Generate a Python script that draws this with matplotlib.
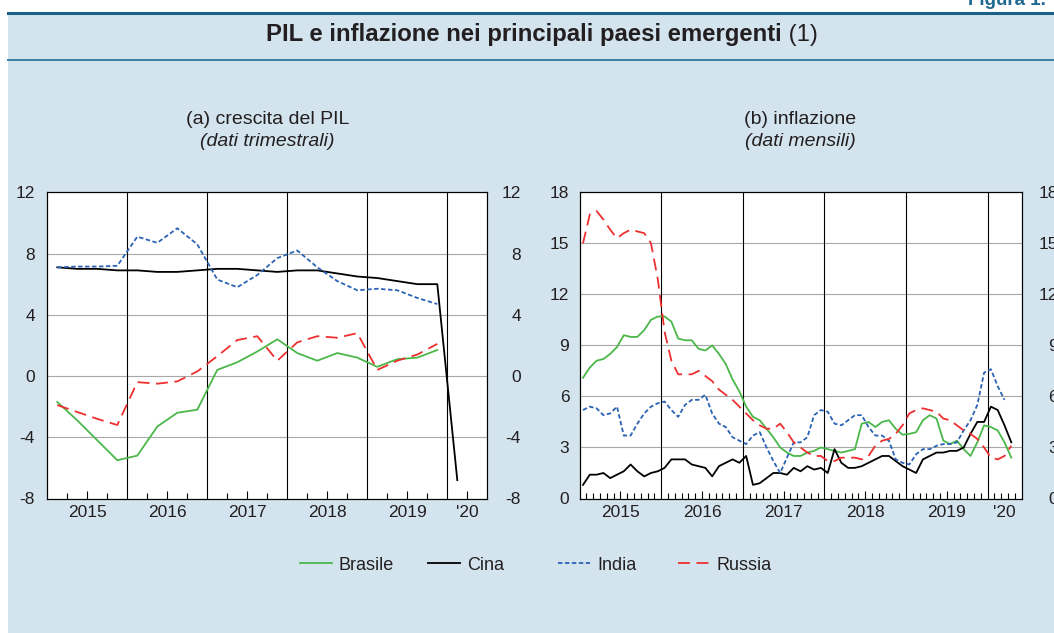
import numpy as np
import matplotlib
matplotlib.use("Agg")
import matplotlib.pyplot as plt
from matplotlib.lines import Line2D
from matplotlib.patches import Rectangle
from matplotlib.text import Annotation

plt.rcParams['font.family'] = ['Liberation Sans', 'DejaVu Sans']
plt.rcParams['lines.scale_dashes'] = False

nan = np.nan

# ---------------- dati ----------------
serie = ['Brasile', 'Cina', 'India', 'Russia']
anni = ['2015', '2016', '2017', '2018', '2019', "'20"]

# (a) crescita del PIL, dati trimestrali 2015T1 - 2020T2
trimestri = np.arange(22)
pil_brasile = [-1.7, -2.9, -4.2, -5.5, -5.2, -3.3, -2.4, -2.2, 0.4, 0.9, 1.6,
               2.4, 1.5, 1.0, 1.5, 1.2, 0.6, 1.1, 1.2, 1.7, nan, nan]
pil_cina = [7.1, 7.0, 7.0, 6.9, 6.9, 6.8, 6.8, 6.9, 7.0, 7.0, 6.9,
            6.8, 6.9, 6.9, 6.7, 6.5, 6.4, 6.2, 6.0, 6.0, -6.8, nan]
pil_india = [7.1, 7.15, 7.15, 7.2, 9.1, 8.7, 9.65, 8.6, 6.3, 5.8, 6.6,
             7.7, 8.2, 7.1, 6.2, 5.6, 5.7, 5.6, 5.1, 4.7, nan, nan]
pil_russia = [-1.9, -2.35, -2.8, -3.2, -0.4, -0.5, -0.35, 0.3, 1.3, 2.35, 2.6,
              1.0, 2.2, 2.6, 2.5, 2.8, 0.4, 1.0, 1.4, 2.1, nan, nan]

# (b) inflazione, dati mensili gen 2015 - apr 2020
mesi = np.arange(64)
infl_brasile = [7.1, 7.7, 8.1, 8.2, 8.5, 8.9, 9.6, 9.5, 9.5, 9.9, 10.5, 10.7,
                10.7, 10.4, 9.4, 9.3, 9.3, 8.8, 8.7, 9.0, 8.5, 7.9, 7.0, 6.3,
                5.4, 4.8, 4.6, 4.1, 3.6, 3.0, 2.7, 2.5, 2.5, 2.7, 2.8, 3.0,
                2.9, 2.8, 2.7, 2.8, 2.9, 4.4, 4.5, 4.2, 4.5, 4.6, 4.1, 3.75,
                3.8, 3.9, 4.6, 4.9, 4.7, 3.4, 3.2, 3.4, 2.9, 2.5, 3.3, 4.3,
                4.2, 4.0, 3.3, 2.4]
infl_cina = [0.8, 1.4, 1.4, 1.5, 1.2, 1.4, 1.6, 2.0, 1.6, 1.3, 1.5, 1.6,
             1.8, 2.3, 2.3, 2.3, 2.0, 1.9, 1.8, 1.3, 1.9, 2.1, 2.3, 2.1,
             2.5, 0.8, 0.9, 1.2, 1.5, 1.5, 1.4, 1.8, 1.6, 1.9, 1.7, 1.8,
             1.5, 2.9, 2.1, 1.8, 1.8, 1.9, 2.1, 2.3, 2.5, 2.5, 2.2, 1.9,
             1.7, 1.5, 2.3, 2.5, 2.7, 2.7, 2.8, 2.8, 3.0, 3.8, 4.5, 4.5,
             5.4, 5.2, 4.3, 3.3]
infl_india = [5.2, 5.4, 5.3, 4.9, 5.0, 5.4, 3.7, 3.7, 4.4, 5.0, 5.4, 5.6,
              5.7, 5.2, 4.8, 5.5, 5.8, 5.8, 6.1, 5.0, 4.4, 4.2, 3.6, 3.4,
              3.2, 3.7, 3.9, 3.0, 2.2, 1.5, 2.4, 3.3, 3.3, 3.6, 4.9, 5.2,
              5.1, 4.4, 4.3, 4.6, 4.9, 4.9, 4.2, 3.7, 3.7, 3.4, 2.3, 2.1,
              2.0, 2.6, 2.9, 2.9, 3.1, 3.2, 3.2, 3.3, 4.0, 4.6, 5.5, 7.4,
              7.6, 6.6, 5.8, nan]
infl_russia = [15.0, 16.7, 16.9, 16.4, 15.8, 15.3, 15.6, 15.8, 15.7, 15.6, 15.0, 12.9,
               9.8, 8.1, 7.3, 7.3, 7.3, 7.5, 7.2, 6.9, 6.4, 6.1, 5.8, 5.4,
               5.0, 4.6, 4.3, 4.1, 4.1, 4.4, 3.9, 3.3, 3.0, 2.7, 2.5, 2.5,
               2.2, 2.2, 2.4, 2.4, 2.4, 2.3, 2.5, 3.1, 3.4, 3.5, 3.8, 4.3,
               5.0, 5.2, 5.3, 5.2, 5.1, 4.7, 4.6, 4.3, 4.0, 3.8, 3.5, 3.0,
               2.4, 2.3, 2.5, 3.1]

colori = {'Brasile': '#4bb749', 'Cina': '#000000', 'India': '#2b63b5', 'Russia': '#ed2f2f'}
trattini = {'India': (3.2, 1.8), 'Russia': (8.6, 4.7)}
testo = '#231f20'


def stile(nome):
    kw = dict(color=colori[nome], lw=1.3)
    if nome in trattini:
        kw['dashes'] = trattini[nome]
    return kw


def pannello(ax, x, dati, ylim, yticks, per_anno, n_periodi, pad_sx, pad_dx):
    ax.set_xlim(-0.5, n_periodi - 0.5)
    ax.set_ylim(*ylim)
    ax.set_yticks(yticks)
    ax.set_yticklabels([str(v) for v in yticks])
    ax.yaxis.grid(True, color='#a8a8a8', lw=0.8)
    ax.set_axisbelow(True)

    confini = np.arange(per_anno, n_periodi, per_anno) - 0.5
    for c in confini:
        ax.axvline(c, color='black', lw=0.8, zorder=1.5)

    for nome, y in zip(serie, dati):
        ax.plot(x, y, zorder=3, **stile(nome))

    # etichette anni al centro di ogni anno visibile
    inizi = np.arange(0, n_periodi, per_anno) - 0.5
    fini = np.minimum(inizi + per_anno, n_periodi - 0.5)
    centri = (inizi + fini) / 2
    ax.set_xticks(centri)
    ax.set_xticklabels(anni[:len(centri)])
    tacche = [b for b in np.arange(n_periodi - 1) + 0.5
              if b not in confini and b not in centri]
    ax.set_xticks(tacche, minor=True)
    ax.tick_params(axis='x', which='major', direction='in', length=6, width=0.8,
                   pad=5, labelsize=12.5, labelcolor=testo)
    ax.tick_params(axis='x', which='minor', direction='in', length=4, width=0.8)
    for t, c in zip(ax.xaxis.get_major_ticks(), centri):
        if (c - 0.5) % 1 != 0:
            t.tick1line.set_visible(False)
    ax.tick_params(axis='y', length=0, pad=pad_sx, labelsize=12.5, labelcolor=testo)

    for s in ax.spines.values():
        s.set_linewidth(0.8)

    ax2 = ax.twinx()
    ax2.set_ylim(*ylim)
    ax2.set_yticks(yticks)
    ax2.set_yticklabels([str(v) for v in yticks])
    ax2.tick_params(axis='y', length=0, pad=pad_dx, labelsize=12.5, labelcolor=testo)
    for lab in ax2.get_yticklabels():
        lab.set_horizontalalignment('right')
    for s in ax2.spines.values():
        s.set_linewidth(0.8)
    return ax2


W, H = 1054, 633
fig = plt.figure(figsize=(W / 100, H / 100), dpi=100, facecolor='white')


def fx(px):
    return px / W


def fy(py):
    return 1 - py / H


# sfondo azzurro e filetti
fig.add_artist(Rectangle((fx(8), 0), 1 - fx(8), fy(12), transform=fig.transFigure,
                         facecolor='#d3e4ee', edgecolor='none', zorder=-2))
fig.add_artist(Line2D([fx(8), 1], [fy(12.5), fy(12.5)], transform=fig.transFigure,
                      color='#1b6089', lw=2.2, zorder=-1))
fig.add_artist(Line2D([fx(8), 1], [fy(59.7), fy(59.7)], transform=fig.transFigure,
                      color='#3a7ea5', lw=1.4, zorder=-1))

fig.text(fx(968), fy(5), 'Figura 1.', fontsize=13.5, fontweight='bold',
         color='#1f6a93', va='baseline', ha='left')

titolo = fig.text(fx(524), fy(41), 'PIL e inflazione nei principali paesi emergenti',
                  fontsize=17.2, fontweight='bold', color=testo, ha='center', va='baseline')
fig.add_artist(Annotation(' (1)', xy=(1, 0), xycoords=titolo, fontsize=17.2,
                          color=testo, ha='left', va='bottom'))

# pannello (a)
ax_a = fig.add_axes([fx(47.3), fy(498.5), fx(487.3) - fx(47.3), fy(192.3) - fy(498.5)])
pannello(ax_a, trimestri, [pil_brasile, pil_cina, pil_india, pil_russia],
         (-8, 12), [-8, -4, 0, 4, 8, 12], 4, 22, 8.9, 24.3)
fig.text(fx(267.3), fy(119), '(a) crescita del PIL', fontsize=14, color=testo,
         ha='center', va='center')
fig.text(fx(267.3), fy(141.5), '(dati trimestrali)', fontsize=14, style='italic',
         color=testo, ha='center', va='center')

# pannello (b)
ax_b = fig.add_axes([fx(579.6), fy(498.5), fx(1021.5) - fx(579.6), fy(192.3) - fy(498.5)])
pannello(ax_b, mesi, [infl_brasile, infl_cina, infl_india, infl_russia],
         (0, 18), [0, 3, 6, 9, 12, 15, 18], 12, 65, 7.4, 26.3)
fig.text(fx(800.5), fy(119), '(b) inflazione', fontsize=14, color=testo,
         ha='center', va='center')
fig.text(fx(800.5), fy(141.5), '(dati mensili)', fontsize=14, style='italic',
         color=testo, ha='center', va='center')

# legenda
pos_legenda = [300, 428, 558, 678]
for nome, px in zip(serie, pos_legenda):
    h = Line2D([], [], **stile(nome))
    fig.legend(handles=[h], labels=[nome], loc='center left',
               bbox_to_anchor=(fx(px), fy(565)), frameon=False, borderpad=0,
               borderaxespad=0, handlelength=1.77, handletextpad=0.39,
               fontsize=13, labelcolor=testo)

fig.savefig('out.png', dpi=100, facecolor='white')
